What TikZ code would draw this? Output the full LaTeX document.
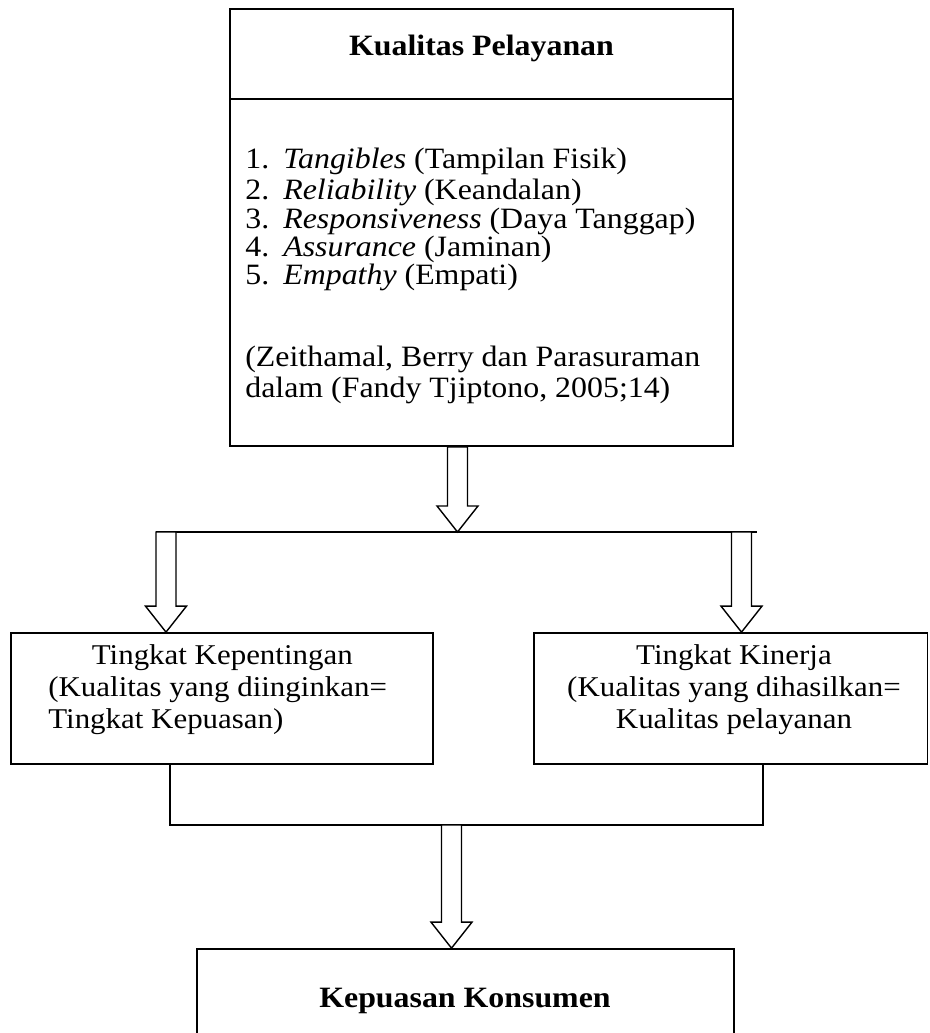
\documentclass[tikz,border=0pt]{standalone}
\usepackage{fontspec}
\setmainfont{Liberation Serif}[FakeStretch=1.08]
\usetikzlibrary{calc}

% hollow block arrow: #1 start of the shaft, #2 tip
\newcommand{\hollowarrow}[2]{%
  \draw[arrowline] ($(#1)+(-10,0)$) -- ($(#2)+(-10,-26)$) -- ($(#2)+(-20.5,-26)$)
    -- (#2) -- ($(#2)+(20.5,-26)$) -- ($(#2)+(10,-26)$) -- ($(#1)+(10,0)$) -- cycle;}
\newcommand{\numitem}[1]{\makebox[0.76cm][l]{#1}}

\begin{document}
\begin{tikzpicture}[x=0.02cm,y=-0.02cm,
    every node/.style={font=\fontsize{16.8}{16.2}\selectfont, inner sep=0pt},
    heading/.style={font=\fontsize{16.8}{16.2}\selectfont\bfseries},
    measure/.style={font=\fontsize{16.3}{18.21}\selectfont},
    box/.style={draw, line width=1pt},
    arrowline/.style={line width=0.8pt, fill=white, line join=miter},
    link/.style={line width=1pt}]
  \useasboundingbox (0,0) rectangle (929,1033);
  \clip (0,0) rectangle (929,1033);

  % service quality box
  \node[box, minimum width=10.06cm, minimum height=8.74cm] (quality) at (481.5,227.5) {};
  \draw[box] (quality.west |- 0,99) -- (quality.east |- 0,99);
  \node[heading, anchor=base] (qtitle) at (481.5,56) {Kualitas Pelayanan};
  \node[anchor=north west, align=left] (dimensions) at (245,148)
    {\strut\numitem{1.}\textit{Tangibles} (Tampilan Fisik)\\
     \numitem{2.}\textit{Reliability} (Keandalan)\\
     \numitem{3.}\textit{Responsiveness} (Daya Tanggap)\\
     \numitem{4.}\textit{Assurance} (Jaminan)\\
     \numitem{5.}\textit{Empathy} (Empati)};
  \node[anchor=north west, align=left] (source) at (245,346)
    {\strut\makebox[9.1cm][s]{(Zeithamal, Berry dan Parasuraman}\\
     dalam (Fandy Tjiptono, 2005;14)};

  % the two measures
  \node[box, minimum width=8.44cm, minimum height=2.62cm] (kepentingan) at (222,698.5) {};
  \node[measure, anchor=north west, align=left] (kptext) at (48,641.6)
    {\strut\makebox[6.96cm][c]{Tingkat Kepentingan}\\
     (Kualitas yang diinginkan=\\
     Tingkat Kepuasan)};

  \node[box, minimum width=7.87cm, minimum height=2.62cm] (kinerja) at (730.75,698.5) {};
  \node[measure, anchor=north, align=center] (kntext) at (734,641.6)
    {\strut Tingkat Kinerja\\
     (Kualitas yang dihasilkan=\\
     Kualitas pelayanan};

  % customer satisfaction, open at the bottom
  \node[box, minimum width=10.74cm, minimum height=2.22cm] (konsumen) at (465.5,1004.5) {};
  \node[heading, anchor=base] (kktitle) at (465,1007) {Kepuasan Konsumen};

  % split line and arrows
  \coordinate (splitL) at (156,532);
  \coordinate (splitR) at (757,532);
  \draw[link] (splitL) -- (splitR);
  \coordinate (qout) at ($(quality.south)+(-24,0)$);
  \hollowarrow{qout}{qout |- splitL}
  \coordinate (lout) at ($(splitL)+(10,0)$);
  \coordinate (ltip) at (lout |- kepentingan.north);
  \hollowarrow{lout}{ltip}
  \coordinate (rout) at ($(splitR)+(-15.5,0)$);
  \coordinate (rtip) at (rout |- kinerja.north);
  \hollowarrow{rout}{rtip}

  % join line and arrow
  \coordinate (lin) at ($(kepentingan.south)+(-52,0)$);
  \coordinate (rin) at ($(kinerja.south)+(32,0)$);
  \coordinate (joinL) at (lin |- 0,825);
  \coordinate (joinR) at (rin |- 0,825);
  \draw[link] (lin) -- (joinL) -- (joinR) -- (rin);
  \coordinate (kout) at ($(konsumen.north |- joinL)+(-14,0)$);
  \coordinate (ktip) at (kout |- konsumen.north);
  \hollowarrow{kout}{ktip}
\end{tikzpicture}
\end{document}
